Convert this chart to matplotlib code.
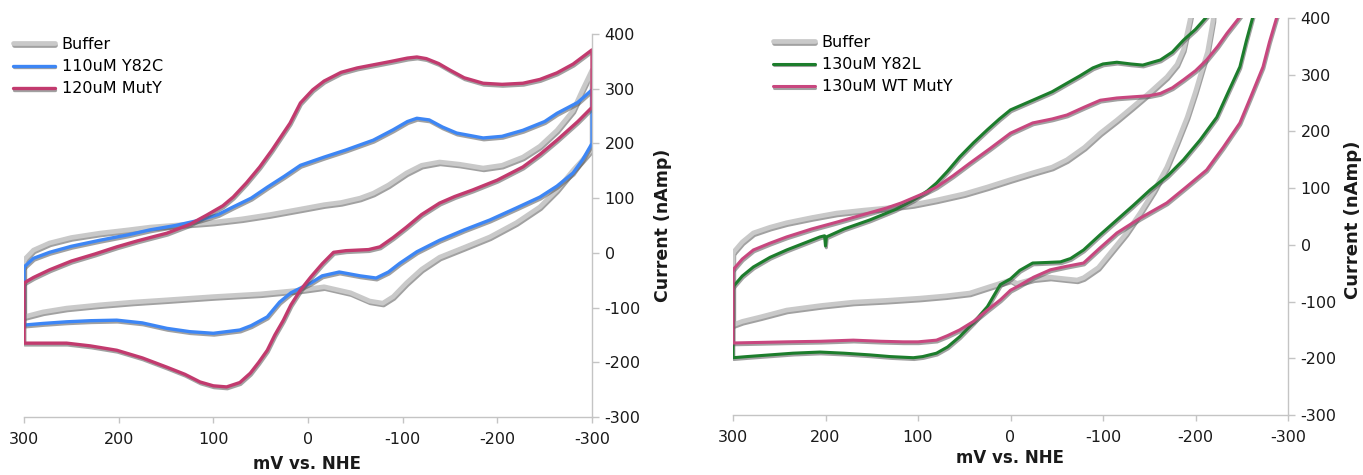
import matplotlib
matplotlib.use("Agg")
import matplotlib.pyplot as plt
import matplotlib.patheffects as pe

plt.rcParams['font.family'] = ['DejaVu Sans']
plt.rcParams['axes.unicode_minus'] = False

# ---------------- data (mV vs NHE, current nA) ----------------
x_ticks = [300, 200, 100, 0, -100, -200, -300]
y_ticks = [-300, -200, -100, 0, 100, 200, 300, 400]

labels_left = ["Buffer", "110uM Y82C", "120uM MutY"]
labels_right = ["Buffer", "130uM Y82L", "130uM WT MutY"]

buffer_left = [(300, -13), (290, 5), (273, 18), (250, 28), (220, 36), (190, 42), (167, 47), (130, 52),
               (100, 56), (70, 62), (40, 70), (8, 80), (-17, 88), (-35, 92), (-55, 100), (-69, 109),
               (-85, 124), (-104, 146), (-120, 160), (-139, 166), (-160, 162), (-185, 155), (-205, 160),
               (-227, 175), (-245, 195), (-263, 224), (-280, 260), (-290, 298), (-300, 334),
               (-300, 190), (-290, 170), (-280, 151), (-263, 115), (-245, 84), (-220, 55), (-192, 29),
               (-165, 10), (-139, -8), (-120, -30), (-104, -55), (-90, -80), (-79, -92), (-65, -88),
               (-45, -73), (-17, -62), (8, -68), (50, -75), (100, -80), (150, -86), (185, -90),
               (220, -95), (255, -101), (280, -108), (300, -117), (300, -13)]

y82c_left = [(300, -26), (290, -10), (273, 1), (250, 12), (220, 23), (190, 33), (167, 42), (140, 50),
             (114, 60), (95, 70), (79, 84), (60, 100), (43, 120), (25, 140), (8, 160), (-17, 175),
             (-40, 188), (-69, 206), (-90, 225), (-105, 240), (-115, 246), (-128, 243), (-142, 230),
             (-157, 219), (-185, 210), (-205, 213), (-227, 224), (-250, 240), (-263, 255), (-285, 275),
             (-300, 298),
             (-300, 200), (-290, 170), (-280, 146), (-263, 122), (-245, 102), (-220, 82), (-192, 60),
             (-165, 42), (-139, 23), (-115, 2), (-97, -19), (-85, -35), (-72, -46), (-55, -42),
             (-33, -35), (-15, -42), (-3, -55), (18, -73), (30, -90), (43, -117), (60, -133),
             (72, -141), (100, -147), (125, -144), (149, -138), (175, -128), (202, -123), (230, -124),
             (255, -126), (280, -129), (300, -132), (300, -26)]

muty_left = [(300, -55), (290, -45), (273, -31), (250, -15), (225, -2), (202, 11), (180, 22), (149, 36),
             (125, 52), (107, 69), (90, 86), (79, 102), (65, 128), (51, 157), (38, 188), (26, 219),
             (19, 237), (8, 274), (-5, 298), (-17, 314), (-35, 330), (-52, 338), (-70, 344), (-88, 350),
             (-105, 356), (-115, 358), (-125, 355), (-138, 346), (-150, 334), (-165, 320), (-185, 310),
             (-205, 308), (-227, 310), (-245, 317), (-263, 329), (-280, 345), (-300, 371),
             (-300, 266), (-285, 240), (-263, 206), (-245, 180), (-227, 157), (-200, 133), (-174, 115),
             (-155, 103), (-139, 91), (-120, 70), (-104, 47), (-90, 28), (-76, 11), (-64, 6), (-52, 5),
             (-40, 4), (-27, 1), (-15, -20), (-3, -44), (8, -68), (18, -95), (26, -123), (35, -150),
             (43, -178), (52, -200), (61, -220), (72, -237), (86, -245), (100, -243), (114, -236),
             (130, -222), (149, -209), (175, -192), (202, -178), (230, -170), (255, -165), (280, -165),
             (300, -165), (300, -55)]

buffer_right = [(300, -14), (290, 5), (278, 21), (260, 31), (242, 39), (215, 48), (188, 56), (160, 61),
                (134, 65), (105, 71), (80, 79), (50, 90), (25, 102), (0, 115), (-24, 127), (-45, 137),
                (-61, 150), (-80, 172), (-97, 197), (-115, 220), (-132, 243), (-150, 268), (-169, 296),
                (-180, 318), (-187, 344), (-194, 396), (-200, 450), (-208, 500),
                (-222, 500), (-219, 396), (-213, 340), (-208, 314), (-200, 270), (-191, 225),
                (-180, 180), (-169, 137), (-155, 95), (-140, 56), (-125, 20), (-108, -14), (-95, -40),
                (-79, -58), (-72, -62), (-60, -60), (-43, -57), (-25, -60), (-7, -68), (0, -62),
                (25, -75), (44, -85), (70, -90), (98, -94), (135, -98), (170, -101), (205, -107),
                (242, -115), (270, -127), (290, -135), (300, -141), (300, -14)]

y82l_right = [(300, -74), (290, -55), (278, -39), (260, -22), (242, -9), (220, 5), (206, 14), (201, 16),
              (200, -2), (199, 14), (180, 28), (152, 44), (125, 62), (105, 79), (90, 95), (80, 109),
              (68, 130), (55, 155), (40, 180), (25, 203), (12, 222), (0, 238), (-24, 255), (-45, 270),
              (-61, 285), (-75, 298), (-89, 312), (-100, 319), (-115, 322), (-130, 319), (-143, 317),
              (-162, 326), (-175, 340), (-187, 361), (-200, 380), (-212, 402), (-225, 430),
              (-268, 430), (-262, 402), (-255, 360), (-248, 314), (-235, 268), (-223, 225), (-205, 185),
              (-187, 150), (-170, 122), (-151, 97), (-133, 70), (-115, 44), (-97, 18), (-79, -9),
              (-65, -24), (-54, -30), (-40, -31), (-24, -32), (-10, -45), (0, -60), (11, -70),
              (25, -109), (40, -137), (55, -162), (68, -180), (80, -191), (95, -197), (105, -199),
              (130, -197), (152, -194), (180, -191), (206, -189), (235, -191), (260, -194), (285, -197),
              (300, -199), (300, -74)]

wt_right = [(300, -44), (290, -25), (278, -9), (260, 3), (242, 14), (215, 28), (188, 40), (160, 53),
            (134, 65), (118, 74), (105, 83), (92, 92), (80, 102), (62, 122), (44, 144), (22, 170),
            (0, 197), (-24, 215), (-45, 222), (-61, 229), (-80, 243), (-97, 255), (-115, 259),
            (-132, 261), (-150, 263), (-162, 267), (-175, 277), (-187, 291), (-200, 307), (-212, 326),
            (-224, 350), (-234, 373), (-248, 402), (-260, 430),
            (-296, 430), (-288, 402), (-280, 358), (-273, 314), (-260, 262), (-248, 215), (-230, 172),
            (-212, 132), (-190, 102), (-169, 74), (-140, 47), (-115, 21), (-97, -5), (-79, -32),
            (-60, -38), (-43, -44), (-25, -57), (-7, -74), (0, -80), (11, -97), (25, -115), (40, -135),
            (55, -150), (68, -160), (80, -168), (100, -171), (116, -171), (140, -170), (170, -168),
            (205, -170), (242, -171), (270, -172), (300, -173), (300, -44)]

# ---------------- figure ----------------
W, H = 1363, 475
fig = plt.figure(figsize=(W / 100, H / 100), dpi=100)


def axpos(x0, x1, ytop, ybot):
    return [x0 / W, 1 - ybot / H, (x1 - x0) / W, (ybot - ytop) / H]


axL = fig.add_axes(axpos(24, 592, 34, 417))
axR = fig.add_axes(axpos(733, 1288, 18, 415))

shadow = [pe.SimpleLineShadow(offset=(0.6, -1.3), shadow_color='#555555', alpha=0.55), pe.Normal()]


def draw(ax, pts, color, lw, label):
    xs = [p[0] for p in pts]
    ys = [p[1] for p in pts]
    ln, = ax.plot(xs, ys, color=color, lw=lw, label=label, solid_joinstyle='round',
                  solid_capstyle='round', path_effects=shadow)
    return ln


def style(ax):
    ax.set_xlim(300, -300)
    ax.set_ylim(-300, 400)
    ax.set_xticks(x_ticks)
    ax.set_xticklabels([str(v) for v in x_ticks])
    ax.set_yticks(y_ticks)
    ax.set_yticklabels([str(v) for v in y_ticks])
    ax.yaxis.tick_right()
    for s in ['left', 'top']:
        ax.spines[s].set_visible(False)
    for s in ['right', 'bottom']:
        ax.spines[s].set_color('#c4c4c4')
        ax.spines[s].set_linewidth(1.0)
    ax.tick_params(colors='#c4c4c4', labelcolor='#1a1a1a', labelsize=11.5, width=1)
    ax.tick_params(axis='x', direction='out', length=4, pad=7)
    ax.tick_params(axis='y', direction='out', length=5, pad=4)
    ax.patch.set_alpha(0)


buffer_color = '#c9c9c9'

h1 = draw(axL, buffer_left, buffer_color, 3.4, labels_left[0])
h2 = draw(axL, y82c_left, '#3d86f5', 2.4, labels_left[1])
h3 = draw(axL, muty_left, '#c23a6e', 2.4, labels_left[2])
style(axL)

g1 = draw(axR, buffer_right, buffer_color, 3.4, labels_right[0])
g2 = draw(axR, y82l_right, '#1c7d2c', 2.2, labels_right[1])
g3 = draw(axR, wt_right, '#c8477f', 2.2, labels_right[2])
style(axR)

leg_kw = dict(frameon=False, fontsize=11.5, handlelength=2.6, handletextpad=0.45,
              labelspacing=0.45, borderpad=0, borderaxespad=0, loc='upper left',
              bbox_transform=fig.transFigure)
fig.legend(handles=[h1, h2, h3], bbox_to_anchor=(13 / W, 1 - 37 / H), **leg_kw)
fig.legend(handles=[g1, g2, g3], bbox_to_anchor=(773 / W, 1 - 35 / H), **leg_kw)

fig.text(307 / W, 1 - 464 / H, "mV vs. NHE", ha='center', va='center', fontsize=12, fontweight='bold',
         color='#1a1a1a')
fig.text(1010 / W, 1 - 458 / H, "mV vs. NHE", ha='center', va='center', fontsize=12, fontweight='bold',
         color='#1a1a1a')
fig.text(663 / W, 1 - 225 / H, "Current (nAmp)", ha='center', va='center', rotation=90, fontsize=12.5,
         fontweight='bold', color='#1a1a1a')
fig.text(1353 / W, 1 - 220 / H, "Current (nAmp)", ha='center', va='center', rotation=90, fontsize=13,
         fontweight='bold', color='#1a1a1a')

fig.savefig("out.png", dpi=100)
